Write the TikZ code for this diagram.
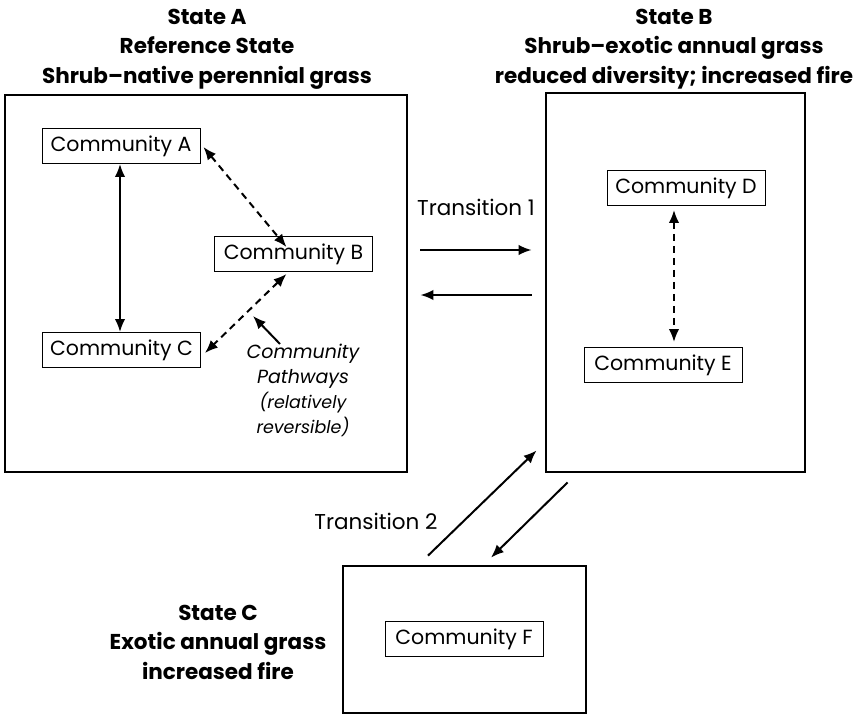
\documentclass[tikz,border=0pt]{standalone}
\usepackage{fontspec}
\setmainfont{Poppins}
\usetikzlibrary{arrows.meta}
\def\comfont{\fontsize{20.5}{25}\selectfont}
\def\hdfont{\bfseries\fontsize{21.5}{29.5}\selectfont}
\def\smfont{\fontsize{17.5}{25}\selectfont}
\def\comm{\node[comm]}
\def\st{\node[state]}

\begin{document}
\begin{tikzpicture}[x=1pt,y=-1pt,>={Latex[length=13pt,width=10.5pt]},
    state/.style={draw,line width=2.8pt,inner sep=0pt},
    comm/.style={draw,line width=0.9pt,minimum width=158pt,minimum height=35pt,inner sep=0pt,font=\comfont},
    hd/.style={align=center,font=\hdfont},
    lbl/.style={font=\fontsize{21.5}{25}\selectfont},
    link/.style={line width=2pt},
    dlink/.style={link,dash pattern=on 7pt off 5pt}]
    \useasboundingbox (0,0) rectangle (859,714);
    % states
    \st[minimum width=402pt,minimum height=377pt] (stA) at (206,283.5) {};
    \st[minimum width=259pt,minimum height=379pt] (stB) at (675.5,282.5) {};
    \st[minimum width=243pt,minimum height=147pt] (stC) at (464.5,639.5) {};
    \node[hd] (hdA) at (207,49) {State A\\Reference State\\Shrub--native perennial grass};
    \node[hd] (hdB) at (674,49) {State B\\Shrub--exotic annual grass\\reduced diversity; increased fire};
    \node[hd] (hdC) at (218,642) {State C\\Exotic annual grass\\increased fire};
    % communities
    \comm (cA) at (121,146) {Community A};
    \comm (cB) at (293.5,254) {Community B};
    \comm (cC) at (121.5,350) {Community C};
    \comm (cD) at (686,188) {Community D};
    \comm (cE) at (663,365) {Community E};
    \comm (cF) at (464,639) {Community F};
    % community pathways
    \draw[link,<->] ([xshift=-1pt]cA.south) -- ([xshift=-1.5pt]cC.north);
    \draw[dlink,<->] ([shift={(3pt,-1pt)}]cA.east) -- ([xshift=-7pt,yshift=-11pt]cB.north);
    \draw[dlink,<->] ([xshift=-7pt,yshift=-2pt]cB.south) -- ([shift={(4pt,-3pt)}]cC.east);
    \draw[dlink,<->] ([xshift=-12pt,yshift=-4pt]cD.south) -- ([xshift=11pt,yshift=5pt]cE.north);
    \node[align=center,font=\fontsize{19}{25}\selectfont\itshape,anchor=north] (pw) at (303,341)
        {Community\\Pathways\\{\smfont(relatively}\\{\smfont reversible)}};
    \coordinate (pwtip) at (253,316);
    \draw[link,->] ([xshift=-23pt,yshift=-3pt]pw.north) -- (pwtip);
    % transitions
    \coordinate (t1a) at (0,250);
    \coordinate (t1b) at (0,295);
    \node[lbl] (t1) at (476,207) {Transition 1};
    \draw[link,->,shorten <=12pt,shorten >=13pt] (stA.east |- t1a) -- (stB.west |- t1a);
    \draw[link,->,shorten <=13pt,shorten >=12pt] (stB.west |- t1b) -- (stA.east |- t1b);
    \node[lbl] (t2) at (376,521) {Transition 2};
    \draw[link,->] ([xshift=-36.5pt,yshift=9pt]stC.north) -- ([xshift=-8pt,yshift=23pt]stB.south west);
    \draw[link,->] ([xshift=23pt,yshift=-9pt]stB.south west) -- ([xshift=26.5pt,yshift=7pt]stC.north);
\end{tikzpicture}
\end{document}
